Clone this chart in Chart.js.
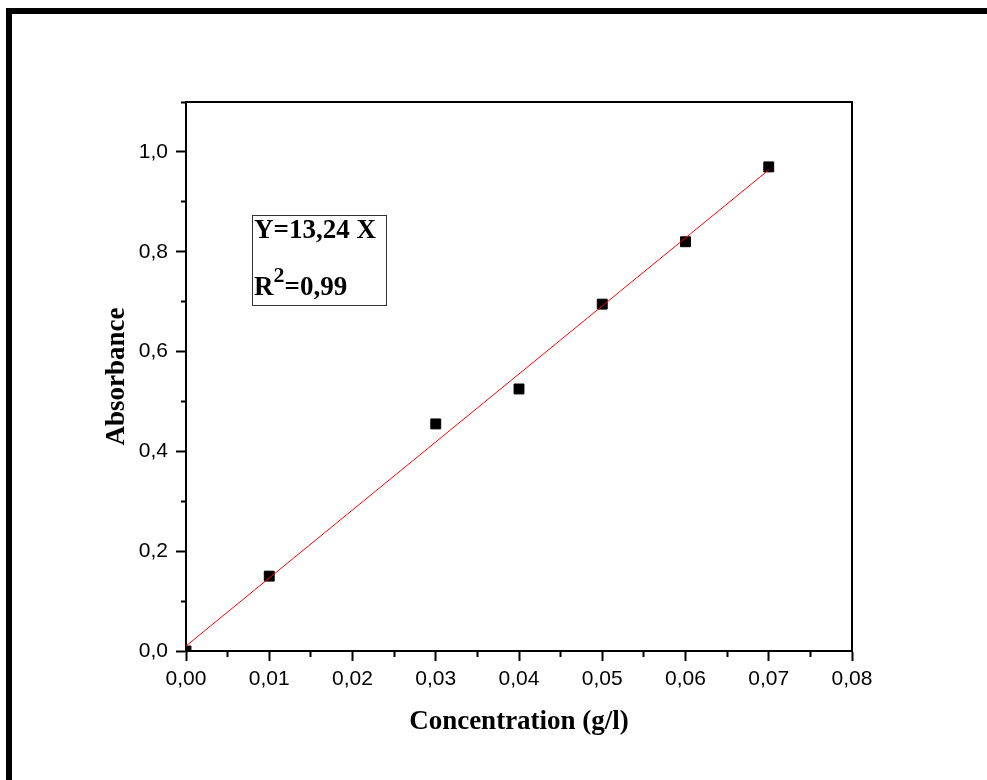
<!DOCTYPE html>
<html>
<head>
<meta charset="utf-8">
<script src="https://cdn.jsdelivr.net/npm/chart.js@4"></script>
<style>
  html, body { margin: 0; padding: 0; background: #fff; overflow: hidden; }
  #wrap { position: relative; width: 987px; height: 780px; }
  #frame { position: absolute; left: 6px; top: 8px; width: 1000px; height: 800px;
           border-left: 6px solid #000; border-top: 6px solid #000; }
  #eq { position: absolute; left: 252px; top: 215px; width: 133px; height: 89px;
        border: 1px solid #333; font: bold 27px "Liberation Serif", "Times New Roman", serif; color: #000; }
  #eq div { position: absolute; left: 1px; white-space: nowrap; }
  #eq sup { font-size: 22px; position: relative; top: -3px; }
</style>
</head>
<body>
<div id="wrap">
  <canvas id="c"></canvas>
  <div id="frame"></div>
  <div id="eq">
    <div style="top:-2px">Y=13,24 X</div>
    <div style="top:49px">R<sup>2</sup>=0,99</div>
  </div>
</div>
<script>
// measured points (g/l -> absorbance)
const concentration = [0, 0.01, 0.03, 0.04, 0.05, 0.06, 0.07];
const absorbance = [0, 0.15, 0.455, 0.525, 0.695, 0.82, 0.97];

// fitted line at both ends
const fitX = [0, 0.07];
const fitY = [0.01, 0.964];

const xTicks = [0, 0.005, 0.01, 0.015, 0.02, 0.025, 0.03, 0.035, 0.04, 0.045, 0.05, 0.055, 0.06, 0.065, 0.07, 0.075, 0.08];
const xTickLabels = ['0,00', '', '0,01', '', '0,02', '', '0,03', '', '0,04', '', '0,05', '', '0,06', '', '0,07', '', '0,08'];
const yTicks = [0, 0.1, 0.2, 0.3, 0.4, 0.5, 0.6, 0.7, 0.8, 0.9, 1.0, 1.1];
const yTickLabels = ['0,0', '', '0,2', '', '0,4', '', '0,6', '', '0,8', '', '1,0', ''];

const tickFont = {family: '"Liberation Sans", Arial, sans-serif', size: 21};
const titleFont = {family: '"Liberation Serif", "Times New Roman", serif', size: 27, weight: 'bold'};

Chart.defaults.color = '#000';

new Chart(document.getElementById('c').getContext('2d'), {
    data: {
        datasets: [{
            type: 'line',
            data: fitX.map((x, i) => ({x: x, y: fitY[i]})),
            borderColor: '#ff0000',
            borderWidth: 1,
            pointRadius: 0,
            fill: false
        }, {
            type: 'scatter',
            data: concentration.map((x, i) => ({x: x, y: absorbance[i]})),
            pointStyle: 'rect',
            pointRadius: 7,
            backgroundColor: '#000',
            borderColor: '#000',
            borderWidth: 1,
            clip: 0
        }]
    },
    options: {
        responsive: true,
        maintainAspectRatio: false,
        animation: false,
        layout: {padding: {left: 0, top: 102, right: 135, bottom: 0}},
        plugins: {legend: {display: false}, tooltip: {enabled: false}},
        scales: {
            x: {
                type: 'linear', position: 'bottom', min: 0, max: 0.08,
                afterBuildTicks: s => { s.ticks = xTicks.map(v => ({value: v})); },
                afterFit: s => { s.height = 129; },
                border: {color: '#000', width: 2},
                grid: {
                    drawOnChartArea: false, tickLength: 10, tickWidth: 2, tickColor: '#000',
                    tickBorderDash: ctx => xTickLabels[ctx.index] ? [] : [5, 100]
                },
                ticks: {autoSkip: false, maxRotation: 0, padding: 6, font: tickFont,
                        callback: (v, i) => xTickLabels[i]},
                title: {display: true, text: 'Concentration (g/l)', font: titleFont,
                        padding: {top: 0, bottom: 42}}
            },
            y: {
                type: 'linear', position: 'left', min: 0, max: 1.1,
                afterBuildTicks: s => { s.ticks = yTicks.map(v => ({value: v})); },
                afterFit: s => { s.width = 186; },
                border: {color: '#000', width: 2},
                grid: {
                    drawOnChartArea: false, tickLength: 10, tickWidth: 2, tickColor: '#000',
                    tickBorderDash: ctx => yTickLabels[ctx.index] ? [] : [0, 5, 5, 100]
                },
                ticks: {autoSkip: false, padding: 8, font: tickFont,
                        callback: (v, i) => yTickLabels[i]},
                title: {display: true, text: 'Absorbance', font: titleFont,
                        padding: {top: 101, bottom: 0}}
            },
            x2: {
                type: 'linear', position: 'top', min: 0, max: 0.08,
                afterFit: s => { s.height = 0; },
                border: {color: '#000', width: 2},
                grid: {display: false},
                ticks: {display: false}
            },
            y2: {
                type: 'linear', position: 'right', min: 0, max: 1.1,
                afterFit: s => { s.width = 0; },
                border: {color: '#000', width: 2},
                grid: {display: false},
                ticks: {display: false}
            }
        }
    }
});
</script>
</body>
</html>
